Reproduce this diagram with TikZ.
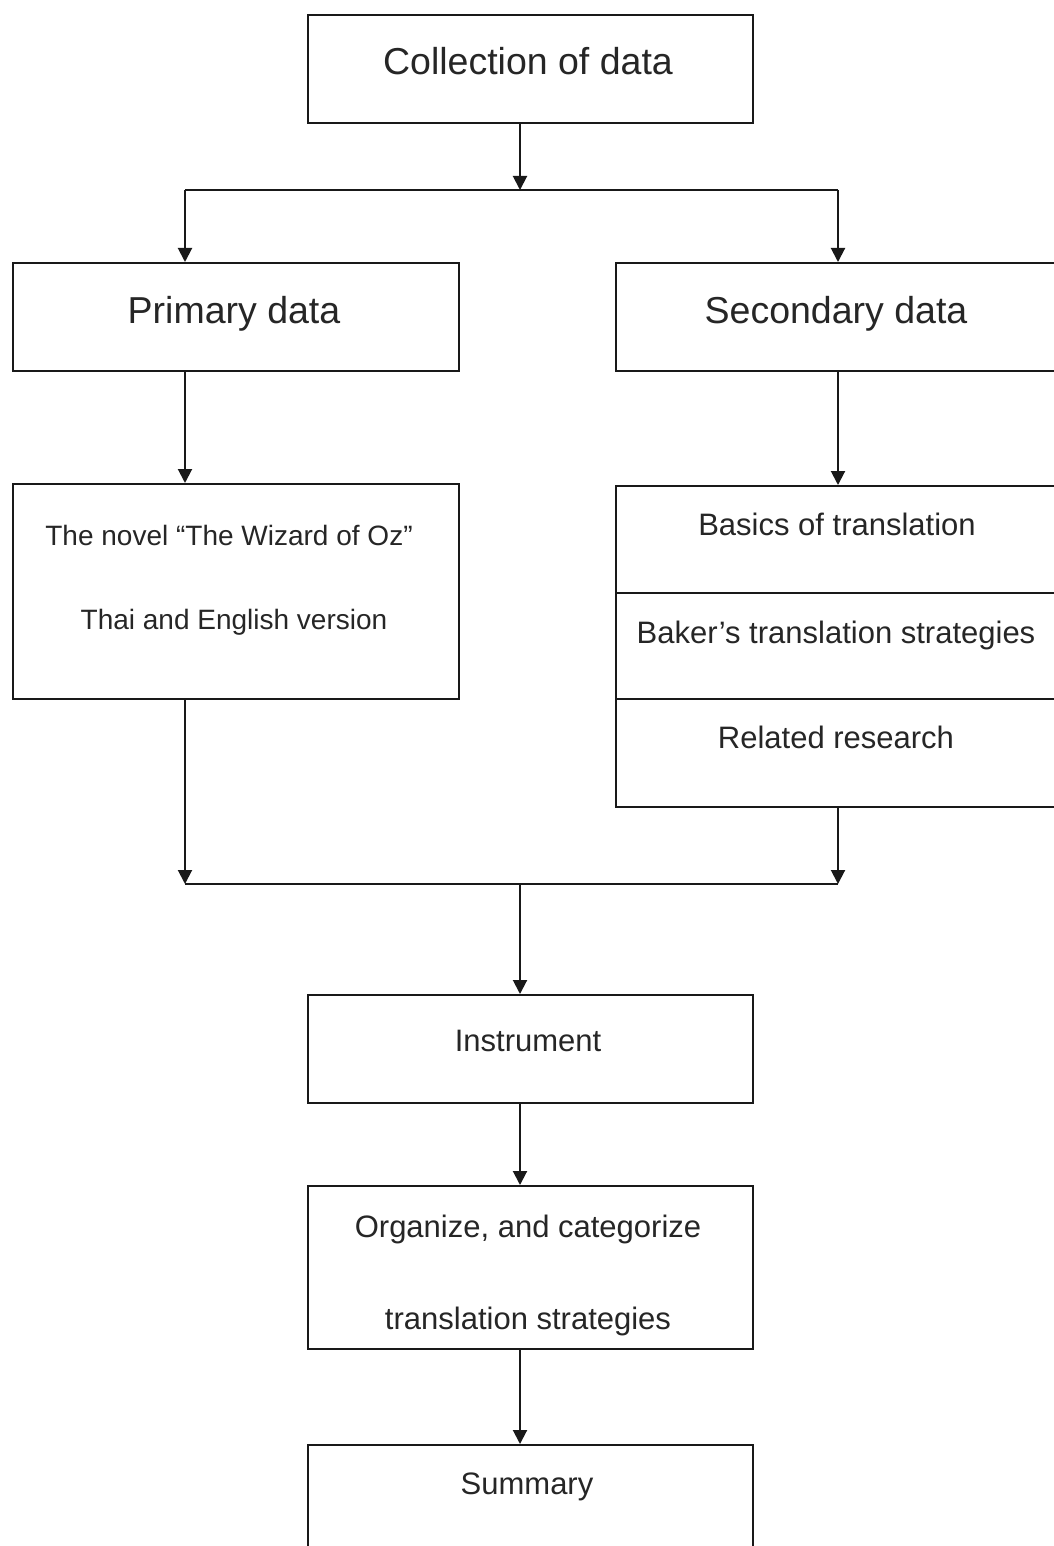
\documentclass[tikz,border=0pt]{standalone}
\usepackage{fontspec}
\setmainfont{Liberation Sans}
\usetikzlibrary{arrows.meta}
\begin{document}
\begin{tikzpicture}[x=1pt,y=-1pt,
  box/.style={draw=black!90, line width=2pt, rectangle, anchor=north west, inner sep=0pt},
  big/.style={anchor=base, inner sep=0pt, text=black!85, font=\fontsize{37.5}{44}\selectfont},
  mid/.style={anchor=base, inner sep=0pt, text=black!85, font=\fontsize{31}{37}\selectfont},
  sml/.style={anchor=base, inner sep=0pt, text=black!85, font=\fontsize{28}{34}\selectfont},
  ln/.style={draw=black!90, line width=2pt},
  arr/.style={ln, -{Triangle[width=14pt,length=14pt]}}]
\useasboundingbox (0,0) rectangle (1053,1546);
\fill[white] (0,0) rectangle (1053,1546);
% boxes
\node[box, minimum width=445pt, minimum height=108pt] (c) at (307,14) {};
\node[box, minimum width=446pt, minimum height=108pt] (p) at (12,262) {};
\node[box, minimum width=450pt, minimum height=108pt] (s) at (615,262) {};
\node[box, minimum width=446pt, minimum height=215pt] (n) at (12,483) {};
\node[box, minimum width=450pt, minimum height=107pt] (b1) at (615,485) {};
\node[box, minimum width=450pt, minimum height=106pt] (b2) at (615,592) {};
\node[box, minimum width=450pt, minimum height=108pt] (b3) at (615,698) {};
\node[box, minimum width=445pt, minimum height=108pt] (i) at (307,994) {};
\node[box, minimum width=445pt, minimum height=163pt] (o) at (307,1185) {};
\node[box, minimum width=445pt, minimum height=130pt] (sm) at (307,1444) {};
% texts
\node[big] (tc) at (528,75) {Collection of data};
\node[big] (tp) at (234,323) {Primary data};
\node[big] (ts) at (836,323) {Secondary data};
\node[sml] (tn1) at (229,545) {The novel “The Wizard of Oz”};
\node[sml] (tn2) at (234,629) {Thai and English version};
\node[mid] (tb1) at (837,535) {Basics of translation};
\node[mid] (tb2) at (836,643) {Baker’s translation strategies};
\node[mid] (tb3) at (836,748) {Related research};
\node[mid] (ti) at (528,1051) {Instrument};
\node[mid] (to1) at (528,1237) {Organize, and categorize};
\node[mid] (to2) at (528,1329) {translation strategies};
\node[mid] (tsm) at (527,1494) {Summary};
% connectors
\coordinate (j1) at (520,190);
\coordinate (jl) at (185,190);
\coordinate (jr) at (838,190);
\coordinate (k1) at (520,884);
\coordinate (kl) at (185,884);
\coordinate (kr) at (838,884);
\draw[arr] (c.south -| j1) -- (j1);
\draw[ln] (jl) -- (jr);
\draw[arr] (jl) -- (jl |- p.north);
\draw[arr] (jr) -- (jr |- s.north);
\draw[arr] (p.south -| jl) -- (n.north -| jl);
\draw[arr] (s.south -| jr) -- (b1.north -| jr);
\draw[arr] (n.south -| kl) -- (kl);
\draw[arr] (b3.south -| kr) -- (kr);
\draw[ln] (kl) -- (kr);
\draw[arr] (k1) -- (i.north -| k1);
\draw[arr] (i.south -| k1) -- (o.north -| k1);
\draw[arr] (o.south -| k1) -- (sm.north -| k1);
\end{tikzpicture}
\end{document}
